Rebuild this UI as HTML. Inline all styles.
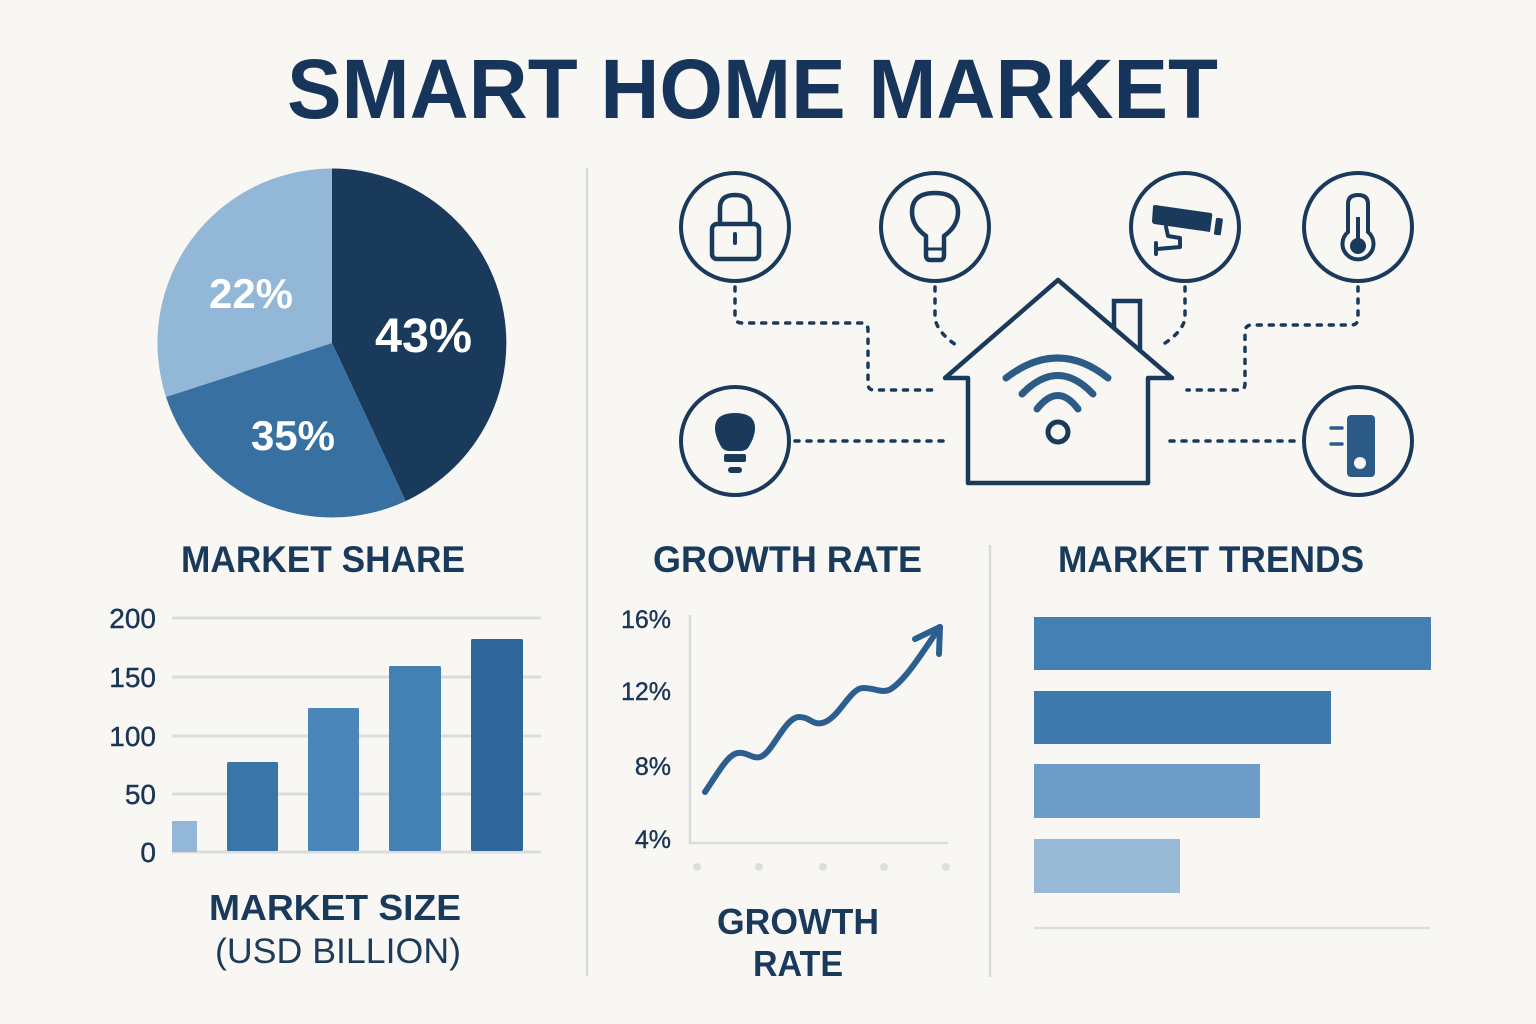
<!DOCTYPE html>
<html><head><meta charset="utf-8"><style>
html,body{margin:0;padding:0;background:#f9f7f3;}
svg{display:block;}
text{font-family:"Liberation Sans",Arial,sans-serif;}
</style></head><body>
<svg width="1536" height="1024" viewBox="0 0 1536 1024" xmlns="http://www.w3.org/2000/svg">
<rect width="1536" height="1024" fill="#f9f7f3"/>
<!-- Title -->
<text x="287" y="118" font-size="84" font-weight="bold" fill="#17355a" textLength="931" lengthAdjust="spacingAndGlyphs">SMART HOME MARKET</text>

<!-- dividers -->
<line x1="587" y1="168" x2="587" y2="976" stroke="#dadada" stroke-width="2.5"/>
<line x1="990" y1="545" x2="990" y2="977" stroke="#dadada" stroke-width="2.5"/>

<!-- Pie -->
<path d="M332,343 L332,168.5 A174.5,174.5 0 0 1 405.7,501.1 Z" fill="#1a3a5c"/>
<path d="M332,343 L405.7,501.1 A174.5,174.5 0 0 1 166,396.9 Z" fill="#3871a1"/>
<path d="M332,343 L166,396.9 A174.5,174.5 0 0 1 332,168.5 Z" fill="#93b7d6"/>
<text x="209" y="308" font-size="42" font-weight="bold" fill="#ffffff" textLength="84" lengthAdjust="spacingAndGlyphs">22%</text>
<text x="375" y="352" font-size="48" font-weight="bold" fill="#ffffff" textLength="97" lengthAdjust="spacingAndGlyphs">43%</text>
<text x="251" y="450" font-size="42" font-weight="bold" fill="#ffffff" textLength="84" lengthAdjust="spacingAndGlyphs">35%</text>

<!-- Section titles -->
<text x="181" y="572" font-size="37" font-weight="bold" fill="#1a3a5c" textLength="284" lengthAdjust="spacingAndGlyphs">MARKET SHARE</text>
<text x="653" y="572" font-size="37" font-weight="bold" fill="#1a3a5c" textLength="269" lengthAdjust="spacingAndGlyphs">GROWTH RATE</text>
<text x="1058" y="572" font-size="37" font-weight="bold" fill="#1a3a5c" textLength="306" lengthAdjust="spacingAndGlyphs">MARKET TRENDS</text>

<!-- Icons: dashed connectors -->
<g fill="none" stroke="#1a3a5c" stroke-width="3.5" stroke-linecap="round" stroke-dasharray="4 8">
<path d="M735,287 L735,316 Q735,323 742,323 L862,323 Q868,323 868,330 L868,384 Q868,390 874,390 L933,390"/>
<path d="M935,287 L935,318 Q937,332 956,345"/>
<path d="M1185,287 L1185,318 Q1183,332 1162,345"/>
<path d="M1358,287 L1358,318 Q1358,325 1351,325 L1252,325 Q1245,325 1245,332 L1245,384 Q1245,390 1239,390 L1187,390"/>
<path d="M795,441 L947,441"/>
<path d="M1170,441 L1302,441"/>
</g>

<!-- circles -->
<g fill="none" stroke="#1a3a5c" stroke-width="4">
<circle cx="735" cy="227" r="54"/>
<circle cx="935" cy="227" r="54"/>
<circle cx="1185" cy="227" r="54"/>
<circle cx="1358" cy="227" r="54"/>
<circle cx="735" cy="441" r="54"/>
<circle cx="1358" cy="441" r="54"/>
</g>

<!-- lock -->
<g fill="none" stroke="#1a3a5c" stroke-width="4.5" stroke-linecap="round">
<rect x="712" y="224" width="47" height="35" rx="5"/>
<path d="M720,224 L720,208 Q720,195 735,195 Q750,195 750,208 L750,224"/>
<line x1="735" y1="234" x2="735" y2="243" stroke-width="4"/>
</g>
<!-- bulb outline -->
<g fill="none" stroke="#1a3a5c" stroke-width="4.5" stroke-linejoin="round">
<path d="M926,243 L926,236 Q912,226 912,212 Q912,193 935,193 Q958,193 958,212 Q958,226 944,236 L944,243 L944,255 Q944,260 940,260 L930,260 Q926,260 926,255 Z"/>
<line x1="926" y1="249" x2="944" y2="249" stroke-width="3"/>
</g>
<!-- camera -->
<g fill="#1a3a5c">
<path d="M1155,205 L1211,213 Q1213,214 1212,217 L1210,232 L1154,224 Q1152,223 1152,221 L1153,207 Q1153,205 1155,205 Z"/>
<rect x="1215" y="218" width="7" height="17" rx="1.5" transform="rotate(8 1218 226)"/>
</g>
<g fill="none" stroke="#1a3a5c" stroke-width="4" stroke-linecap="round" stroke-linejoin="round">
<path d="M1166,227 L1168,236 L1180,238 L1180,247 L1157,249"/>
<line x1="1156" y1="243" x2="1156" y2="254"/>
</g>
<line x1="1170" y1="229" x2="1190" y2="232" stroke="#f9f7f3" stroke-width="2.5"/>
<!-- thermometer -->
<g fill="none" stroke="#1a3a5c" stroke-width="4">
<path d="M1348,232 L1348,204 Q1348,195 1358,195 Q1368,195 1368,204 L1368,232 A15.5,15.5 0 1 1 1348,232 Z"/>
</g>
<line x1="1358" y1="217" x2="1358" y2="244" stroke="#1a3a5c" stroke-width="4"/>
<circle cx="1358" cy="246" r="8" fill="#1a3a5c"/>
<!-- smart bulb filled -->
<g fill="#1a3a5c">
<path d="M722,448 Q715,437 715,428 Q715,413 735,413 Q755,413 755,428 Q755,437 748,448 Q745,451 740,451 L730,451 Q725,451 722,448 Z"/>
<rect x="724" y="454" width="22" height="8" rx="2"/>
<rect x="728" y="467" width="14" height="6" rx="3"/>
</g>
<!-- sensor -->
<rect x="1347" y="415" width="28" height="62" rx="4" fill="#2d5b87"/>
<circle cx="1360" cy="463" r="6" fill="#f9f7f3"/>
<g stroke="#2d5b87" stroke-width="3.5" stroke-linecap="round">
<line x1="1331" y1="428" x2="1342" y2="428"/>
<line x1="1331" y1="444" x2="1342" y2="444"/>
</g>

<!-- House -->
<path d="M945,378 L1058,280 L1172,378 L1148,378 L1148,483 L968,483 L968,378 Z" fill="none" stroke="#1a3a5c" stroke-width="4.5" stroke-linejoin="round"/>
<path d="M1114,329 L1114,301 L1140,301 L1140,352" fill="none" stroke="#1a3a5c" stroke-width="4.5" stroke-linejoin="miter"/>
<!-- wifi -->
<g fill="none" stroke="#2d5b87" stroke-width="7" stroke-linecap="round">
<path d="M1006,378 Q1058,338 1108,378"/>
<path d="M1022,394 Q1058,357 1093,394"/>
<path d="M1037,409 Q1058,382 1078,409"/>
</g>
<circle cx="1058" cy="432" r="10" fill="none" stroke="#1a3a5c" stroke-width="5"/>

<!-- Bar chart -->
<g stroke="#dcdcdc" stroke-width="3">
<line x1="172" y1="618" x2="541" y2="618"/>
<line x1="172" y1="677" x2="541" y2="677"/>
<line x1="172" y1="736" x2="541" y2="736"/>
<line x1="172" y1="794" x2="541" y2="794"/>
<line x1="172" y1="852" x2="541" y2="852"/>
</g>
<g font-size="28" fill="#1a3556" text-anchor="end" stroke="#1a3556" stroke-width="0.4">
<text x="156" y="628">200</text>
<text x="156" y="687">150</text>
<text x="156" y="746">100</text>
<text x="156" y="804">50</text>
<text x="156" y="862">0</text>
</g>
<rect x="172" y="821" width="25" height="31" fill="#93b7d6"/>
<rect x="227" y="762" width="51" height="89" rx="1.5" fill="#3a75a8"/>
<rect x="308" y="708" width="51" height="143" rx="1.5" fill="#4a86b9"/>
<rect x="389" y="666" width="52" height="185" rx="1.5" fill="#4381b5"/>
<rect x="471" y="639" width="52" height="212" rx="1.5" fill="#30669a"/>
<text x="209" y="920" font-size="36" font-weight="bold" fill="#1a3a5c" textLength="252" lengthAdjust="spacingAndGlyphs">MARKET SIZE</text>
<text x="215" y="963" font-size="35" fill="#1f3b5a" textLength="246" lengthAdjust="spacingAndGlyphs">(USD BILLION)</text>

<!-- Line chart -->
<g font-size="25" fill="#1a3556" text-anchor="end" stroke="#1a3556" stroke-width="0.4">
<text x="671" y="628">16%</text>
<text x="671" y="700">12%</text>
<text x="671" y="775">8%</text>
<text x="671" y="848">4%</text>
</g>
<line x1="690" y1="615" x2="690" y2="844" stroke="#d8dcdf" stroke-width="2.5"/>
<line x1="689" y1="843" x2="948" y2="843" stroke="#d8dcdf" stroke-width="2.5"/>
<g fill="#dedede">
<circle cx="697" cy="867" r="4"/>
<circle cx="759" cy="867" r="4"/>
<circle cx="823" cy="867" r="4"/>
<circle cx="884" cy="867" r="4"/>
<circle cx="946" cy="867" r="4"/>
</g>
<path d="M705,792 C718,773 728,754 738,753 C748,752 752,759 760,757 C772,754 785,717 799,717 C810,717 812,725 822,723 C838,720 850,688 863,688 C875,688 880,693 889,690 C905,682 925,648 940,627" fill="none" stroke="#2c5f8f" stroke-width="6" stroke-linecap="round"/>
<path d="M915,639 L940,627 L939,654" fill="none" stroke="#2c5f8f" stroke-width="6" stroke-linecap="round" stroke-linejoin="round"/>
<text x="717" y="934" font-size="36" font-weight="bold" fill="#1a3a5c" textLength="162" lengthAdjust="spacingAndGlyphs">GROWTH</text>
<text x="753" y="976" font-size="36" font-weight="bold" fill="#1a3a5c" textLength="90" lengthAdjust="spacingAndGlyphs">RATE</text>

<!-- Horizontal bars -->
<rect x="1034" y="617" width="397" height="53" fill="#4580b4"/>
<rect x="1034" y="691" width="297" height="53" fill="#3f7aaf"/>
<rect x="1034" y="764" width="226" height="54" fill="#6b9dc7"/>
<rect x="1034" y="839" width="146" height="54" fill="#98bad7"/>
<line x1="1034" y1="928" x2="1430" y2="928" stroke="#dcdcdc" stroke-width="2.5"/>
</svg>
</body></html>
